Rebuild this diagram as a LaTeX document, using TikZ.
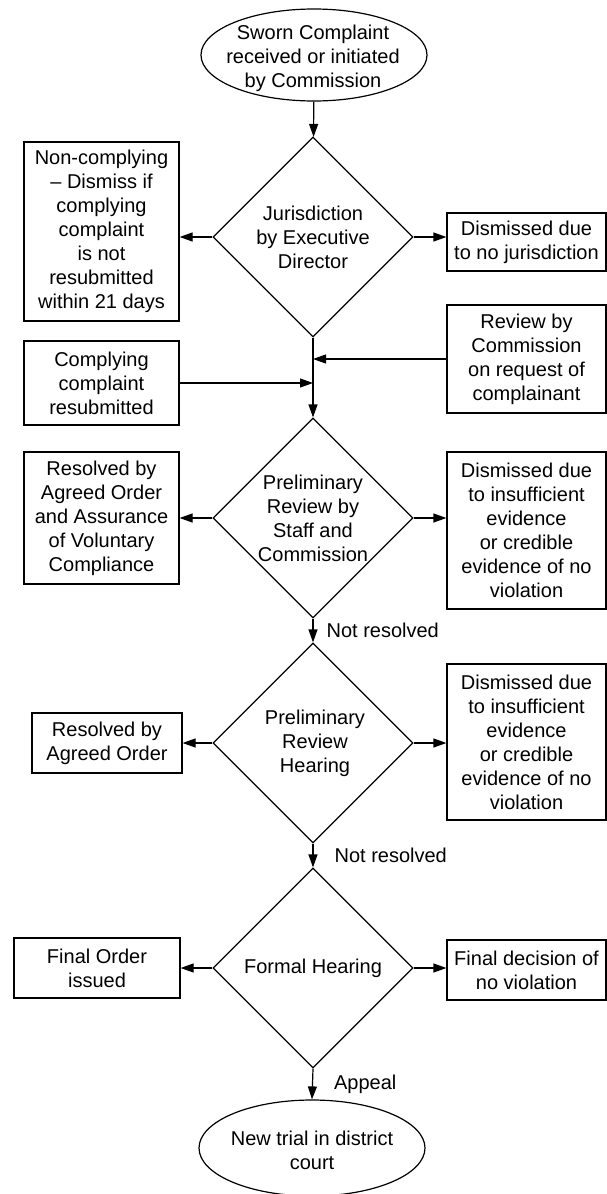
\documentclass[tikz,border=0pt]{standalone}
\usepackage{fontspec}
\setmainfont{Liberation Sans}
\usetikzlibrary{shapes.geometric, arrows.meta}
\tikzset{
  box/.style={draw, line width=1.2pt, align=center, inner sep=0pt,
    font=\fontsize{20}{24}\selectfont},
  decision/.style={draw, diamond, line width=1.2pt, minimum width=200pt,
    minimum height=200pt, inner sep=0pt},
  terminal/.style={draw, ellipse, line width=1.2pt, inner sep=0pt},
  txt/.style={align=center, inner sep=0pt, font=\fontsize{20}{24}\selectfont},
  flow/.style={line width=1.2pt, -{Triangle[length=13pt,width=9pt]}}
}

\begin{document}
\begin{tikzpicture}[x=1pt,y=-1pt]
  \useasboundingbox (0,0) rectangle (607,1194);
  \node[terminal, minimum width=226pt, minimum height=92pt] (start) at (314,55) {};
  \node[txt] (start-text) at (313,58) {Sworn Complaint\\received or initiated\\by Commission};

  \node[decision] (juris) at (313,237) {};
  \node[txt] (juris-text) at (313,237) {Jurisdiction\\by Executive\\Director};
  \node[decision] (prelim) at (313,518) {};
  \node[txt] (prelim-text) at (313,518) {Preliminary\\Review by\\Staff and\\Commission};
  \node[decision] (hearing) at (313,743) {};
  \node[txt] (hearing-text) at (315,743) {Preliminary\\Review\\Hearing};
  \node[decision] (formal) at (313,968) {};
  \node[txt] (formal-text) at (313,968) {Formal Hearing};

  \node[terminal, minimum width=226pt, minimum height=96pt] (trial) at (312,1148) {};
  \node[txt] (trial-text) at (312,1150) {New trial in district\\court};

  \node[box, minimum width=155pt, minimum height=179pt] (noncomply) at (101.5,231.5)
    {Non-complying\\– Dismiss if\\complying\\complaint\\is not\\resubmitted\\within 21 days};
  \node[box, minimum width=155pt, minimum height=84pt] (comply) at (101.5,383)
    {Complying\\complaint\\resubmitted};
  \node[box, minimum width=155pt, minimum height=132pt] (assurance) at (101.5,518)
    {Resolved by\\Agreed Order\\and Assurance\\of Voluntary\\Compliance};
  \node[box, minimum width=150pt, minimum height=60pt] (agreed) at (107,743)
    {Resolved by\\Agreed Order};
  \node[box, minimum width=166pt, minimum height=60pt] (final) at (97,968)
    {Final Order\\issued};

  \node[box, minimum width=159pt, minimum height=58pt] (nojuris) at (526.5,242)
    {Dismissed due\\to no jurisdiction};
  \node[box, minimum width=159pt, minimum height=108pt] (review) at (526.5,359)
    {Review by\\Commission\\on request of\\complainant};
  \node[box, minimum width=159pt, minimum height=157pt] (insuff1) at (526.5,530.5)
    {Dismissed due\\to insufficient\\evidence\\or credible\\evidence of no\\violation};
  \node[box, minimum width=159pt, minimum height=156pt] (insuff2) at (526.5,742)
    {Dismissed due\\to insufficient\\evidence\\or credible\\evidence of no\\violation};
  \node[box, minimum width=159pt, minimum height=60pt] (novio) at (526.5,970)
    {Final decision of\\no violation};

  \draw[flow] (start) -- (juris);
  \draw[flow] (juris.west) -- (juris.west -| noncomply.east);
  \draw[flow] (juris.east) -- (juris.east -| nojuris.west);
  \draw[flow] (juris.south) -- (prelim.north);
  \draw[flow] (review.west) -- (review.west -| juris.south);
  \draw[flow] (comply.east) -- (comply.east -| juris.south);
  \draw[flow] (prelim.west) -- (prelim.west -| assurance.east);
  \draw[flow] (prelim.east) -- (prelim.east -| insuff1.west);
  \draw[flow] (prelim.south) -- node[txt, right=13pt] (notres1) {Not resolved} (hearing.north);
  \draw[flow] (hearing.west) -- (hearing.west -| agreed.east);
  \draw[flow] (hearing.east) -- (hearing.east -| insuff2.west);
  \draw[flow] (hearing.south) -- node[txt, right=21pt] (notres2) {Not resolved} (formal.north);
  \draw[flow] (formal.west) -- (formal.west -| final.east);
  \draw[flow] (formal.east) -- (formal.east -| novio.west);
  \draw[flow] (formal.south) -- node[txt, right=21pt] (appeal) {Appeal} (trial.north);
\end{tikzpicture}
\end{document}
